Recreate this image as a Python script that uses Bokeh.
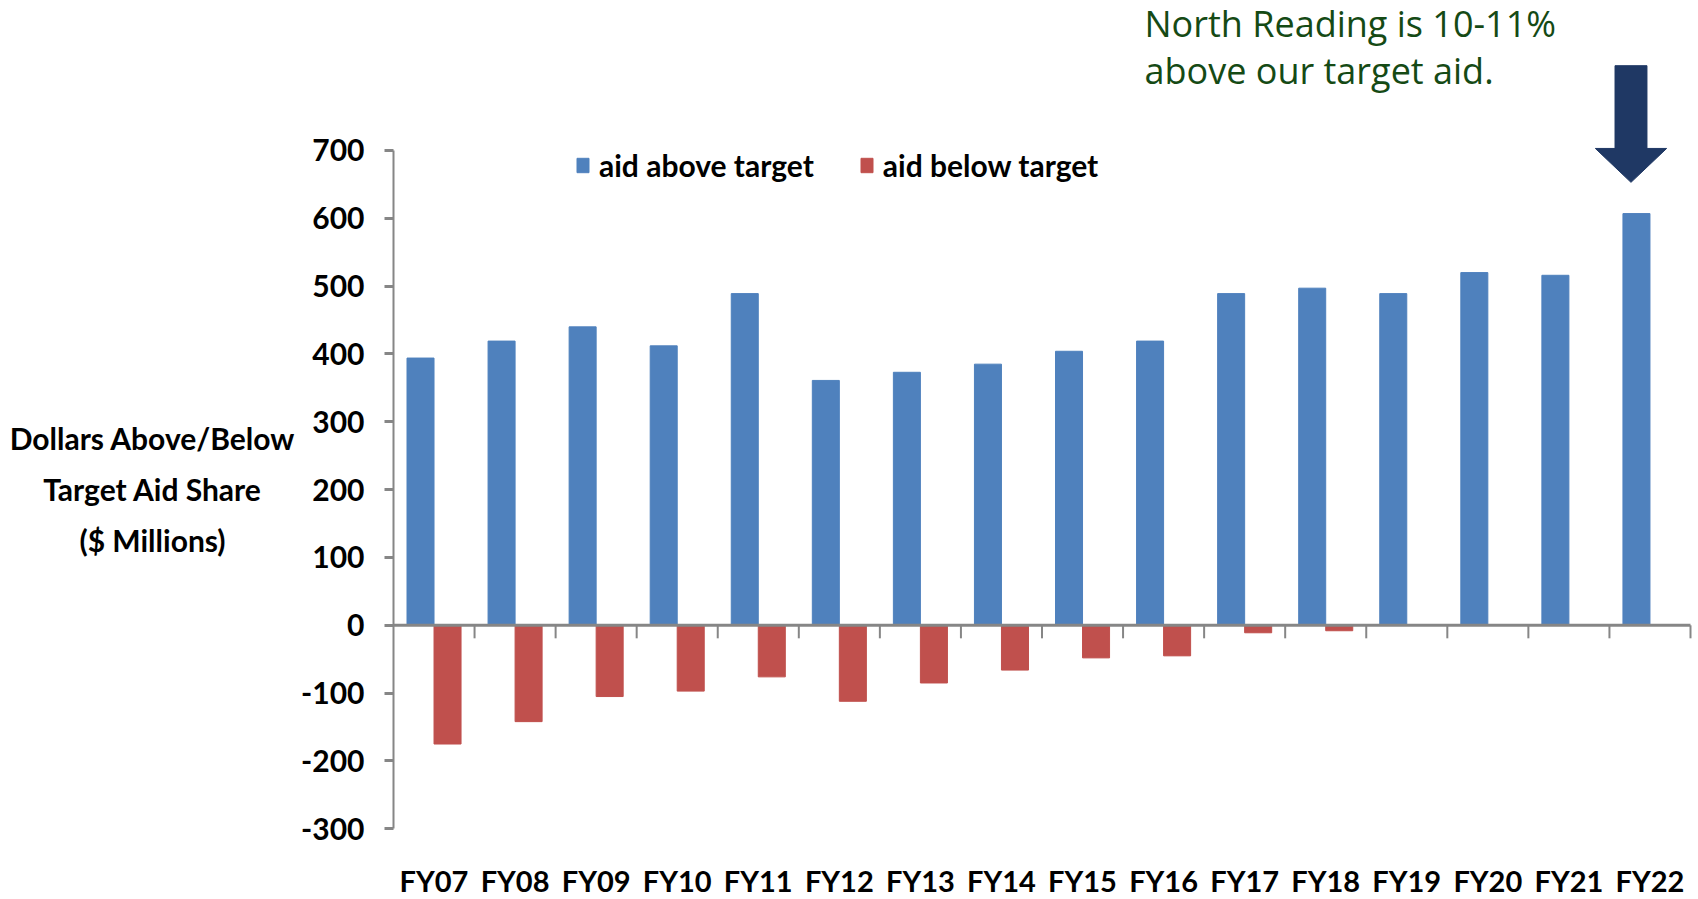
import numpy as np
from bokeh.plotting import figure
from bokeh.models import Range1d, LinearAxis, FixedTicker, Label, Legend, LegendItem
from bokeh.embed import file_html
from bokeh.resources import INLINE

# ---------------- data ----------------
categories = ["FY07", "FY08", "FY09", "FY10", "FY11", "FY12", "FY13", "FY14",
              "FY15", "FY16", "FY17", "FY18", "FY19", "FY20", "FY21", "FY22"]
aid_above = [394, 419, 440, 412, 489, 361, 373, 385, 404, 419, 489, 497, 489, 520, 516, 607]
aid_below = [-175, -142, -105, -97, -76, -112, -85, -66, -48, -45, -11, -8, 0, 0, 0, 0]
y_ticks = [-300, -200, -100, 0, 100, 200, 300, 400, 500, 600, 700]
series_names = ["aid above target", "aid below target"]
ylabel_lines = ["Dollars Above/Below", "Target Aid Share", "($ Millions)"]
note_lines = ["North Reading is 10-11%", "above our target aid."]

BLUE = "#4F81BD"
RED = "#C0504D"
GRAY = "#868686"
NAVY = "#1F3864"
GREEN = "#154A15"
FONT = "Lato"
NOTE_FONT = "Open Sans"

n = len(categories)
idx = np.arange(n)
bar_w = 1.0 / 3.0

W, H = 1698, 899
Y0, Y1 = -404.2, 921.1
units_per_px = (Y1 - Y0) / H

# frame covers the whole canvas; axes are placed at fixed data locations
p = figure(width=W, height=H, output_backend="svg", toolbar_location=None,
           x_range=Range1d(-4.848, n + 0.0987), y_range=Range1d(Y0, Y1),
           x_axis_location=None, y_axis_location=None,
           min_border_left=0, min_border_right=0, min_border_top=0, min_border_bottom=0)
p.outline_line_color = None
p.background_fill_color = "white"
p.border_fill_color = "white"
p.xgrid.visible = False
p.ygrid.visible = False

r_above = p.vbar(x=idx + 0.5 - bar_w / 2, top=aid_above, bottom=0, width=bar_w,
                 fill_color=BLUE, line_color=BLUE)
r_below = p.vbar(x=idx + 0.5 + bar_w / 2, top=0, bottom=aid_below, width=bar_w,
                 fill_color=RED, line_color=RED)

# zero line with tick marks at category boundaries
p.segment(x0=[0], y0=[0], x1=[n], y1=[0], line_color=GRAY, line_width=3)
bounds_x = idx + 1
p.segment(x0=bounds_x, y0=np.zeros(n), x1=bounds_x, y1=np.full(n, -13 * units_per_px),
          line_color=GRAY, line_width=2)

# y axis
yaxis = LinearAxis(ticker=FixedTicker(ticks=y_ticks), bounds=(y_ticks[0], y_ticks[-1]),
                   fixed_location=0,
                   major_label_overrides={t: str(t) for t in y_ticks})
yaxis.axis_line_color = GRAY
yaxis.axis_line_width = 2
yaxis.major_tick_line_color = GRAY
yaxis.major_tick_line_width = 3
yaxis.major_tick_out = 9
yaxis.major_tick_in = 0
yaxis.minor_tick_line_color = None
yaxis.major_label_standoff = 20
yaxis.major_label_text_font = FONT
yaxis.major_label_text_font_style = "bold"
yaxis.major_label_text_font_size = "30px"
yaxis.major_label_text_color = "black"
p.add_layout(yaxis, "left")

# category labels along the bottom
centers = [float(i) + 0.5 for i in idx]
xaxis = LinearAxis(ticker=FixedTicker(ticks=centers), fixed_location=y_ticks[0],
                   major_label_overrides={c: lab for c, lab in zip(centers, categories)})
xaxis.axis_line_color = None
xaxis.major_tick_line_color = None
xaxis.minor_tick_line_color = None
xaxis.major_tick_out = 0
xaxis.major_tick_in = 0
xaxis.major_label_standoff = 34
xaxis.major_label_text_font = FONT
xaxis.major_label_text_font_style = "bold"
xaxis.major_label_text_font_size = "29px"
xaxis.major_label_text_color = "black"
p.add_layout(xaxis, "below")

# legend
legend = Legend(items=[LegendItem(label=series_names[0], renderers=[r_above]),
                       LegendItem(label=series_names[1], renderers=[r_below])],
                orientation="horizontal", location=(575, 716))
legend.padding = 0
legend.margin = 0
legend.spacing = 45
legend.glyph_width = 15
legend.glyph_height = 18
legend.label_standoff = 9
legend.label_height = 18
legend.label_text_font = FONT
legend.label_text_font_style = "bold"
legend.label_text_font_size = "30px"
legend.label_text_color = "black"
legend.border_line_color = None
legend.background_fill_alpha = 0
p.add_layout(legend)

# y-axis title (three lines, left of the axis)
for k, line in enumerate(ylabel_lines):
    p.add_layout(Label(x=152, y=462 - 51 * k, x_units="screen", y_units="screen",
                       text=line, text_align="center", text_baseline="middle",
                       text_font=FONT, text_font_style="bold", text_font_size="30px",
                       text_color="black"))

# note text
for k, line in enumerate(note_lines):
    p.add_layout(Label(x=1144, y=876 - 47 * k, x_units="screen", y_units="screen",
                       text=line, text_align="left", text_baseline="alphabetic",
                       text_font=NOTE_FONT, text_font_size="36px", text_color=GREEN))

# block arrow pointing at the last bar
last = n - 1
cx = last + 0.266
sw, hw = 0.197, 0.44
v = aid_above[last]
top_y, base_y, tip_y = v + 218, v + 96, v + 46
p.patch(x=[cx - sw, cx + sw, cx + sw, cx + hw, cx, cx - hw, cx - sw],
        y=[top_y, top_y, base_y, base_y, tip_y, base_y, base_y],
        fill_color=NAVY, line_color=NAVY)

open("out.html", "w").write(file_html(p, INLINE))
